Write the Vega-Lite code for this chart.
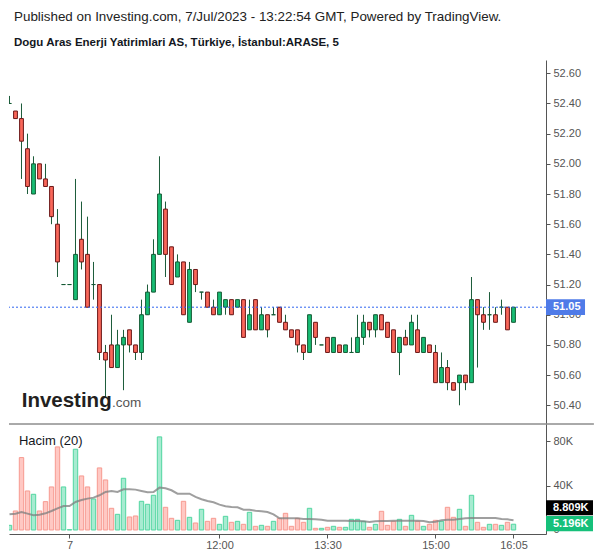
{
  "$schema": "https://vega.github.io/schema/vega-lite/v6.json",
  "padding": {"left": 8, "top": 9, "right": 0, "bottom": 0},
  "autosize": {"type": "pad"},
  "title": {
    "text": "Published on Investing.com, 7/Jul/2023 - 13:22:54 GMT, Powered by TradingView.",
    "subtitle": "Dogu Aras Enerji Yatirimlari AS, Türkiye, İstanbul:ARASE, 5",
    "anchor": "start", "frame": "group", "dx": 5, "offset": 11.2,
    "font": "Liberation Sans", "fontSize": 13.4, "fontWeight": "normal", "color": "#222222",
    "subtitleFont": "Liberation Sans", "subtitleFontSize": 11.5, "subtitleFontWeight": "bold",
    "subtitleColor": "#131722", "subtitlePadding": 14.3
  },
  "datasets": {
    "bars": [
      {"k":0,"o":52.40,"h":52.45,"l":52.40,"c":52.40,"v":4200,"ma":14100},
      {"k":1,"o":52.35,"h":52.35,"l":52.30,"c":52.30,"v":17100,"ma":14700},
      {"k":2,"o":52.30,"h":52.40,"l":51.90,"c":52.15,"v":65100,"ma":16200},
      {"k":3,"o":52.10,"h":52.20,"l":51.80,"c":51.85,"v":35100,"ma":14700},
      {"k":4,"o":51.80,"h":52.05,"l":51.80,"c":52.00,"v":32100,"ma":13200},
      {"k":5,"o":52.00,"h":52.00,"l":51.90,"c":51.90,"v":17100,"ma":13800},
      {"k":6,"o":51.90,"h":52.00,"l":51.85,"c":51.85,"v":25500,"ma":15000},
      {"k":7,"o":51.85,"h":51.85,"l":51.60,"c":51.65,"v":38700,"ma":17100},
      {"k":8,"o":51.60,"h":51.70,"l":51.25,"c":51.35,"v":74700,"ma":19500},
      {"k":9,"o":51.20,"h":51.20,"l":51.20,"c":51.20,"v":38700,"ma":21600},
      {"k":10,"o":51.20,"h":51.20,"l":51.20,"c":51.20,"v":300,"ma":21600},
      {"k":11,"o":51.10,"h":51.90,"l":51.10,"c":51.40,"v":72600,"ma":25200},
      {"k":12,"o":51.50,"h":51.75,"l":51.30,"c":51.35,"v":48600,"ma":27000},
      {"k":13,"o":51.40,"h":51.65,"l":51.05,"c":51.05,"v":38700,"ma":28200},
      {"k":14,"o":51.20,"h":51.35,"l":51.10,"c":51.20,"v":27900,"ma":29100},
      {"k":15,"o":51.20,"h":51.20,"l":50.70,"c":50.75,"v":55800,"ma":31200},
      {"k":16,"o":50.75,"h":50.80,"l":50.45,"c":50.70,"v":45000,"ma":34200},
      {"k":17,"o":50.80,"h":51.00,"l":50.65,"c":50.65,"v":19500,"ma":35100},
      {"k":18,"o":50.65,"h":50.90,"l":50.65,"c":50.80,"v":14100,"ma":34200},
      {"k":19,"o":50.80,"h":50.90,"l":50.50,"c":50.85,"v":46500,"ma":36600},
      {"k":20,"o":50.90,"h":50.90,"l":50.75,"c":50.80,"v":11700,"ma":36600},
      {"k":21,"o":50.80,"h":50.80,"l":50.70,"c":50.75,"v":12600,"ma":36300},
      {"k":22,"o":50.75,"h":51.10,"l":50.70,"c":51.00,"v":25800,"ma":35100},
      {"k":23,"o":51.00,"h":51.20,"l":51.00,"c":51.15,"v":23100,"ma":33900},
      {"k":24,"o":51.15,"h":51.50,"l":51.15,"c":51.40,"v":31200,"ma":34200},
      {"k":25,"o":51.40,"h":52.05,"l":51.40,"c":51.80,"v":83700,"ma":38100},
      {"k":26,"o":51.70,"h":51.75,"l":51.25,"c":51.40,"v":20400,"ma":37500},
      {"k":27,"o":51.45,"h":51.45,"l":51.20,"c":51.20,"v":10500,"ma":35700},
      {"k":28,"o":51.25,"h":51.40,"l":51.25,"c":51.35,"v":8700,"ma":32700},
      {"k":29,"o":51.35,"h":51.35,"l":51.00,"c":51.00,"v":25800,"ma":32700},
      {"k":30,"o":50.95,"h":51.35,"l":50.95,"c":51.30,"v":11400,"ma":32700},
      {"k":31,"o":51.30,"h":51.30,"l":51.15,"c":51.20,"v":6300,"ma":29700},
      {"k":32,"o":51.15,"h":51.15,"l":51.10,"c":51.15,"v":18600,"ma":27600},
      {"k":33,"o":51.15,"h":51.15,"l":51.05,"c":51.05,"v":7800,"ma":26100},
      {"k":34,"o":51.05,"h":51.10,"l":51.00,"c":51.00,"v":10500,"ma":24900},
      {"k":35,"o":51.00,"h":51.15,"l":51.00,"c":51.15,"v":5100,"ma":22800},
      {"k":36,"o":51.05,"h":51.10,"l":51.00,"c":51.10,"v":12300,"ma":21300},
      {"k":37,"o":51.10,"h":51.10,"l":51.00,"c":51.00,"v":6900,"ma":20700},
      {"k":38,"o":51.05,"h":51.10,"l":51.05,"c":51.10,"v":7800,"ma":20400},
      {"k":39,"o":51.10,"h":51.10,"l":50.85,"c":50.85,"v":5100,"ma":18300},
      {"k":40,"o":50.90,"h":51.10,"l":50.90,"c":51.00,"v":15900,"ma":18300},
      {"k":41,"o":51.10,"h":51.10,"l":50.90,"c":50.90,"v":3300,"ma":17400},
      {"k":42,"o":50.90,"h":51.05,"l":50.90,"c":51.00,"v":4200,"ma":16800},
      {"k":43,"o":51.00,"h":51.00,"l":50.85,"c":50.90,"v":3300,"ma":16200},
      {"k":44,"o":51.00,"h":51.05,"l":51.00,"c":51.00,"v":7800,"ma":14100},
      {"k":45,"o":51.05,"h":51.05,"l":50.95,"c":50.95,"v":10500,"ma":10500},
      {"k":46,"o":50.95,"h":51.00,"l":50.90,"c":50.90,"v":15000,"ma":10500},
      {"k":47,"o":50.90,"h":50.90,"l":50.85,"c":50.85,"v":3300,"ma":10500},
      {"k":48,"o":50.90,"h":50.90,"l":50.75,"c":50.80,"v":10500,"ma":10500},
      {"k":49,"o":50.80,"h":50.80,"l":50.70,"c":50.75,"v":6900,"ma":9900},
      {"k":50,"o":50.75,"h":51.00,"l":50.75,"c":51.00,"v":19500,"ma":9900},
      {"k":51,"o":50.95,"h":50.95,"l":50.80,"c":50.85,"v":1500,"ma":9600},
      {"k":52,"o":50.80,"h":50.80,"l":50.80,"c":50.80,"v":1500,"ma":9300},
      {"k":53,"o":50.85,"h":50.85,"l":50.75,"c":50.75,"v":2400,"ma":8400},
      {"k":54,"o":50.75,"h":50.85,"l":50.75,"c":50.85,"v":3300,"ma":8400},
      {"k":55,"o":50.80,"h":50.80,"l":50.75,"c":50.75,"v":2400,"ma":8400},
      {"k":56,"o":50.75,"h":50.80,"l":50.75,"c":50.80,"v":2400,"ma":8400},
      {"k":57,"o":50.75,"h":50.85,"l":50.75,"c":50.75,"v":9600,"ma":8100},
      {"k":58,"o":50.75,"h":51.00,"l":50.75,"c":50.85,"v":9600,"ma":8100},
      {"k":59,"o":50.85,"h":51.00,"l":50.80,"c":50.95,"v":7800,"ma":7800},
      {"k":60,"o":50.95,"h":50.95,"l":50.85,"c":50.90,"v":2400,"ma":7200},
      {"k":61,"o":50.90,"h":51.00,"l":50.85,"c":51.00,"v":5100,"ma":7800},
      {"k":62,"o":51.00,"h":51.00,"l":50.90,"c":50.90,"v":16800,"ma":8100},
      {"k":63,"o":50.95,"h":50.95,"l":50.85,"c":50.85,"v":4200,"ma":8100},
      {"k":64,"o":50.90,"h":50.90,"l":50.75,"c":50.75,"v":7800,"ma":8400},
      {"k":65,"o":50.75,"h":50.85,"l":50.60,"c":50.85,"v":9600,"ma":8400},
      {"k":66,"o":50.85,"h":50.90,"l":50.80,"c":50.80,"v":3300,"ma":8400},
      {"k":67,"o":50.80,"h":51.00,"l":50.80,"c":50.95,"v":13200,"ma":8400},
      {"k":68,"o":50.90,"h":51.00,"l":50.75,"c":50.75,"v":7800,"ma":8400},
      {"k":69,"o":50.75,"h":50.85,"l":50.75,"c":50.85,"v":3300,"ma":8100},
      {"k":70,"o":50.80,"h":50.80,"l":50.75,"c":50.75,"v":5100,"ma":6900},
      {"k":71,"o":50.75,"h":50.80,"l":50.55,"c":50.55,"v":8700,"ma":7500},
      {"k":72,"o":50.55,"h":50.75,"l":50.55,"c":50.65,"v":7800,"ma":8700},
      {"k":73,"o":50.65,"h":50.70,"l":50.50,"c":50.55,"v":20400,"ma":9300},
      {"k":74,"o":50.55,"h":50.55,"l":50.50,"c":50.50,"v":11400,"ma":9300},
      {"k":75,"o":50.55,"h":50.60,"l":50.40,"c":50.60,"v":18600,"ma":9900},
      {"k":76,"o":50.60,"h":50.60,"l":50.50,"c":50.55,"v":3300,"ma":10500},
      {"k":77,"o":50.55,"h":51.25,"l":50.55,"c":51.10,"v":31200,"ma":10800},
      {"k":78,"o":51.10,"h":51.10,"l":50.65,"c":51.00,"v":6900,"ma":10800},
      {"k":79,"o":51.00,"h":51.05,"l":50.90,"c":50.95,"v":2400,"ma":10800},
      {"k":80,"o":51.00,"h":51.15,"l":50.90,"c":51.00,"v":5100,"ma":10800},
      {"k":81,"o":51.00,"h":51.05,"l":50.95,"c":50.95,"v":5100,"ma":10800},
      {"k":82,"o":51.05,"h":51.10,"l":51.00,"c":51.05,"v":4200,"ma":9900},
      {"k":83,"o":51.05,"h":51.05,"l":50.90,"c":50.90,"v":6900,"ma":9600},
      {"k":84,"o":50.95,"h":51.05,"l":50.95,"c":51.05,"v":5196,"ma":8809}
    ],
    "last": [{"price": 51.05, "label": "51.05"}],
    "vlabels": [{"ma": 8809, "ma_label": "8.809K", "vol": 5196, "vol_label": "5.196K"}],
    "brand": [{"name": "Investing", "suffix": ".com", "panel": "Hacim (20)"}]
  },
  "spacing": 0,
  "vconcat": [
    {
      "width": 537,
      "height": 363,
      "layer": [
        {
          "data": {"name": "bars"},
          "mark": {"type": "rule", "color": "#1c5c3a", "strokeWidth": 1, "clip": true},
          "encoding": {
            "x": {"field": "k", "type": "quantitative", "scale": {"domain": [-0.0833, 89.4167], "nice": false, "zero": false, "padding": 0}, "axis": null},
            "y": {"field": "l", "type": "quantitative", "scale": {"domain": [50.2826, 52.6881], "nice": false, "zero": false},
                  "axis": {"orient": "right", "values": [50.4, 50.6, 50.8, 51.0, 51.2, 51.4, 51.6, 51.8, 52.0, 52.2, 52.4, 52.6], "tickCount": 30, "format": ".2f", "title": null, "grid": false, "labelOverlap": false}},
            "y2": {"field": "h"}
          }
        },
        {
          "data": {"name": "bars"},
          "mark": {"type": "bar", "orient": "vertical", "width": 3.8, "strokeWidth": 1, "clip": true},
          "encoding": {
            "x": {"field": "k", "type": "quantitative", "scale": {"domain": [-0.0833, 89.4167], "nice": false, "zero": false, "padding": 0}, "axis": null},
            "y": {"field": "o", "type": "quantitative", "scale": {"domain": [50.2826, 52.6881], "nice": false, "zero": false}},
            "y2": {"field": "c"},
            "fill": {"condition": {"test": "datum.c >= datum.o", "value": "#18bd74"}, "value": "#f9675a"},
            "stroke": {"condition": {"test": "datum.c >= datum.o", "value": "#145a34"}, "value": "#6a1717"}
          }
        },
        {
          "data": {"name": "last"},
          "mark": {"type": "rule", "color": "#2f64f0", "strokeWidth": 1, "strokeDash": [2, 2]},
          "encoding": {
            "y": {"field": "price", "type": "quantitative", "scale": {"domain": [50.2826, 52.6881], "nice": false, "zero": false}}
          }
        },
        {
          "data": {"name": "last"},
          "mark": {"type": "rect", "color": "#4f7be8", "clip": false},
          "encoding": {
            "x": {"datum": 89.4167, "type": "quantitative", "scale": {"domain": [-0.0833, 89.4167], "nice": false, "zero": false, "padding": 0}, "axis": null},
            "x2": {"datum": 95.92},
            "y": {"datum": 51.102, "type": "quantitative", "scale": {"domain": [50.2826, 52.6881], "nice": false, "zero": false}},
            "y2": {"datum": 50.998}
          }
        },
        {
          "data": {"name": "last"},
          "mark": {"type": "text", "color": "#ffffff", "font": "Liberation Sans", "fontSize": 11, "fontWeight": "bold", "align": "left", "baseline": "middle", "clip": false},
          "encoding": {
            "x": {"datum": 90.58, "type": "quantitative", "scale": {"domain": [-0.0833, 89.4167], "nice": false, "zero": false, "padding": 0}, "axis": null},
            "y": {"field": "price", "type": "quantitative", "scale": {"domain": [50.2826, 52.6881], "nice": false, "zero": false}},
            "text": {"field": "label"}
          }
        },
        {
          "data": {"name": "brand"},
          "mark": {"type": "text", "color": "#231f20", "font": "Liberation Sans", "fontSize": 20.5, "fontWeight": "bold", "align": "left", "baseline": "alphabetic"},
          "encoding": {
            "x": {"datum": 2.03, "type": "quantitative", "scale": {"domain": [-0.0833, 89.4167], "nice": false, "zero": false, "padding": 0}, "axis": null},
            "y": {"datum": 50.391, "type": "quantitative", "scale": {"domain": [50.2826, 52.6881], "nice": false, "zero": false}},
            "text": {"field": "name"}
          }
        },
        {
          "data": {"name": "brand"},
          "mark": {"type": "text", "color": "#555555", "font": "Liberation Sans", "fontSize": 13.5, "align": "left", "baseline": "alphabetic"},
          "encoding": {
            "x": {"datum": 17.1, "type": "quantitative", "scale": {"domain": [-0.0833, 89.4167], "nice": false, "zero": false, "padding": 0}, "axis": null},
            "y": {"datum": 50.391, "type": "quantitative", "scale": {"domain": [50.2826, 52.6881], "nice": false, "zero": false}},
            "text": {"field": "suffix"}
          }
        }
      ]
    },
    {
      "width": 537,
      "height": 110,
      "layer": [
        {
          "data": {"name": "bars"},
          "mark": {"type": "bar", "orient": "vertical", "width": 4.4, "strokeWidth": 1, "clip": true},
          "encoding": {
            "x": {"field": "k", "type": "quantitative", "scale": {"domain": [-0.0833, 89.4167], "nice": false, "zero": false, "padding": 0},
                  "axis": {"values": [10, 35, 53, 71, 84], "tickCount": 30, "labelExpr": "datum.value == 10 ? '7' : datum.value == 35 ? '12:00' : datum.value == 53 ? '13:30' : datum.value == 71 ? '15:00' : '16:05'", "title": null, "grid": false, "labelPadding": 1.5}},
            "y": {"field": "v", "type": "quantitative", "scale": {"domain": [-3600, 95300], "nice": false, "zero": false},
                  "axis": {"orient": "right", "values": [0, 40000, 80000], "tickCount": 10, "labelExpr": "datum.value == 0 ? '0' : format(datum.value / 1000, 'd') + 'K'", "title": null, "grid": false, "labelOverlap": false}},
            "fill": {"condition": {"test": "datum.c >= datum.o", "value": "#a7ebd1"}, "value": "#ffc8c3"},
            "stroke": {"condition": {"test": "datum.c >= datum.o", "value": "#52d6a0"}, "value": "#f79a90"}
          }
        },
        {
          "data": {"name": "bars"},
          "mark": {"type": "line", "color": "#7f7f7f", "opacity": 0.75, "strokeWidth": 2, "clip": true},
          "encoding": {
            "x": {"field": "k", "type": "quantitative", "scale": {"domain": [-0.0833, 89.4167], "nice": false, "zero": false, "padding": 0}},
            "y": {"field": "ma", "type": "quantitative", "scale": {"domain": [-3600, 95300], "nice": false, "zero": false}}
          }
        },
        {
          "data": {"name": "brand"},
          "mark": {"type": "rule", "color": "#555555", "strokeWidth": 1, "clip": false},
          "encoding": {
            "x": {"datum": -0.0833, "type": "quantitative", "scale": {"domain": [-0.0833, 89.4167], "nice": false, "zero": false, "padding": 0}},
            "x2": {"datum": 97.4},
            "y": {"datum": 95300, "type": "quantitative", "scale": {"domain": [-3600, 95300], "nice": false, "zero": false}}
          }
        },
        {
          "data": {"name": "brand"},
          "mark": {"type": "text", "color": "#131722", "font": "Liberation Sans", "fontSize": 13, "align": "left", "baseline": "middle"},
          "encoding": {
            "x": {"datum": 1.58, "type": "quantitative", "scale": {"domain": [-0.0833, 89.4167], "nice": false, "zero": false, "padding": 0}},
            "y": {"datum": 80000, "type": "quantitative", "scale": {"domain": [-3600, 95300], "nice": false, "zero": false}},
            "text": {"field": "panel"}
          }
        },
        {
          "data": {"name": "vlabels"},
          "mark": {"type": "rect", "color": "#000000", "clip": false},
          "encoding": {
            "x": {"datum": 89.4167, "type": "quantitative", "scale": {"domain": [-0.0833, 89.4167], "nice": false, "zero": false, "padding": 0}},
            "x2": {"datum": 97.25},
            "y": {"datum": 26700, "type": "quantitative", "scale": {"domain": [-3600, 95300], "nice": false, "zero": false}},
            "y2": {"datum": 13200}
          }
        },
        {
          "data": {"name": "vlabels"},
          "mark": {"type": "rect", "color": "#16c07a", "clip": false},
          "encoding": {
            "x": {"datum": 89.4167, "type": "quantitative", "scale": {"domain": [-0.0833, 89.4167], "nice": false, "zero": false, "padding": 0}},
            "x2": {"datum": 97.25},
            "y": {"datum": 12600, "type": "quantitative", "scale": {"domain": [-3600, 95300], "nice": false, "zero": false}},
            "y2": {"datum": -1170}
          }
        },
        {
          "data": {"name": "vlabels"},
          "mark": {"type": "text", "color": "#ffffff", "font": "Liberation Sans", "fontSize": 11, "fontWeight": "bold", "align": "left", "baseline": "middle", "clip": false},
          "encoding": {
            "x": {"datum": 90.58, "type": "quantitative", "scale": {"domain": [-0.0833, 89.4167], "nice": false, "zero": false, "padding": 0}},
            "y": {"datum": 19950, "type": "quantitative", "scale": {"domain": [-3600, 95300], "nice": false, "zero": false}},
            "text": {"field": "ma_label"}
          }
        },
        {
          "data": {"name": "vlabels"},
          "mark": {"type": "text", "color": "#ffffff", "font": "Liberation Sans", "fontSize": 11, "fontWeight": "bold", "align": "left", "baseline": "middle", "clip": false},
          "encoding": {
            "x": {"datum": 90.58, "type": "quantitative", "scale": {"domain": [-0.0833, 89.4167], "nice": false, "zero": false, "padding": 0}},
            "y": {"datum": 5700, "type": "quantitative", "scale": {"domain": [-3600, 95300], "nice": false, "zero": false}},
            "text": {"field": "vol_label"}
          }
        }
      ]
    }
  ],
  "config": {
    "view": {"stroke": null},
    "font": "Liberation Sans",
    "axis": {
      "labelFont": "Liberation Sans", "labelFontSize": 11, "labelColor": "#555555",
      "domainColor": "#555555", "tickColor": "#555555", "tickSize": 4, "labelPadding": 3,
      "labelOverlap": false
    }
  }
}
